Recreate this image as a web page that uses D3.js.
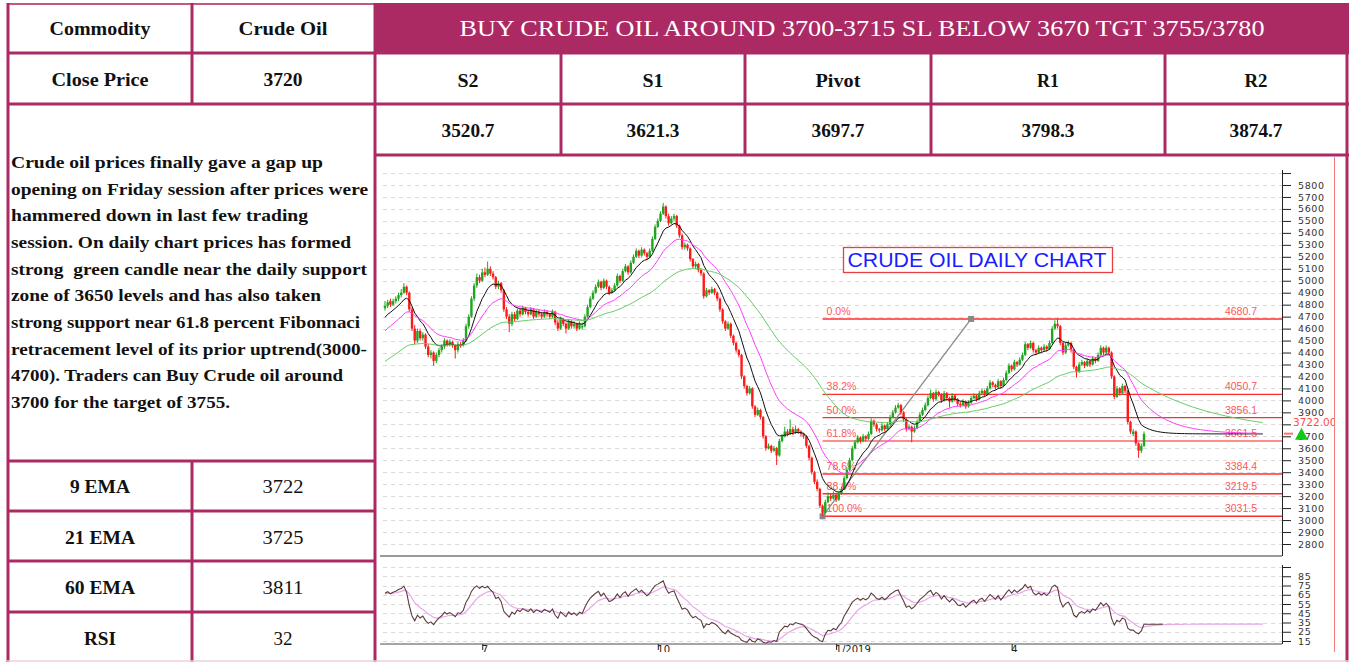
<!DOCTYPE html>
<html>
<head>
<meta charset="utf-8">
<script src="https://cdn.jsdelivr.net/npm/d3@7/dist/d3.min.js"></script>
<style>
  body { margin: 0; background: #fff; }
  svg { display: block; }
  text { white-space: pre; }
</style>
</head>
<body>
<script>
// ---- table text ----
let leftHead = ["Commodity", "Close Price"];
let leftHeadValues = ["Crude Oil", "3720"];
let title = "BUY CRUDE OIL AROUND 3700-3715 SL BELOW 3670 TGT 3755/3780";
let levelNames = ["S2", "S1", "Pivot", "R1", "R2"];
let levelValues = ["3520.7", "3621.3", "3697.7", "3798.3", "3874.7"];
let emaNames = ["9 EMA", "21 EMA", "60 EMA", "RSI"];
let emaValues = ["3722", "3725", "3811", "32"];
let noteLines = [
  "Crude oil prices finally gave a gap up",
  "opening on Friday session after prices were",
  "hammered down in last few trading",
  "session. On daily chart prices has formed",
  "strong  green candle near the daily support",
  "zone of 3650 levels and has also taken",
  "strong support near 61.8 percent Fibonnaci",
  "retracement level of its prior uptrend(3000-",
  "4700). Traders can Buy Crude oil around",
  "3700 for the target of 3755."
];

// ---- daily prices, mid May 2018 .. early June 2019 ----
let opens = [
  4770,4790,4830,4800,4830,4850,4880,4900,4950,4900,
  4760,4600,4500,4580,4520,4550,4450,4380,4400,4330,
  4380,4420,4450,4500,4470,4490,4460,4420,4470,4460,
  4500,4620,4700,4850,4960,5030,5000,5070,5050,5100,
  5060,5030,4950,4980,4920,4760,4700,4640,4720,4680,
  4750,4720,4770,4740,4720,4760,4700,4740,4720,4700,
  4740,4720,4700,4740,4650,4600,4680,4640,4600,4660,
  4620,4640,4600,4610,4620,4700,4780,4850,4900,4950,
  4990,4940,5000,4950,4900,4920,4960,5040,5000,5080,
  5120,5070,5150,5200,5250,5210,5260,5230,5200,5250,
  5350,5450,5500,5560,5620,5540,5480,5520,5540,5460,
  5380,5280,5300,5270,5180,5120,5140,5090,5060,4870,
  4920,4900,4930,4900,4850,4760,4660,4600,4640,4540,
  4480,4420,4380,4200,4120,4060,4100,3950,3880,3920,
  3860,3700,3600,3620,3580,3600,3540,3660,3700,3740,
  3720,3760,3730,3760,3740,3720,3700,3620,3520,3400,
  3320,3260,3120,3060,3150,3200,3180,3210,3170,3220,
  3260,3350,3420,3500,3600,3650,3690,3660,3700,3680,
  3720,3830,3800,3760,3750,3790,3760,3800,3860,3900,
  3940,3960,3900,3840,3760,3780,3740,3770,3820,3880,
  3920,3960,4020,4060,4010,4070,4050,4000,4060,4020,
  3990,4040,4010,3970,3960,3990,3950,3980,4020,4040,
  4010,4060,4080,4050,4100,4150,4130,4110,4160,4120,
  4170,4230,4290,4260,4320,4300,4340,4380,4470,4440,
  4480,4420,4400,4440,4420,4450,4430,4480,4600,4640,
  4620,4480,4400,4460,4480,4420,4280,4240,4300,4320,
  4290,4330,4300,4350,4330,4380,4440,4400,4440,4400,
  4200,4030,4100,4060,4120,4080,3820,3720,3740,3640,
  3580,3620
];
let highs = [
  4830,4840,4850,4850,4870,4900,4930,4980,4960,4910,
  4780,4630,4600,4600,4570,4560,4470,4420,4410,4400,
  4440,4470,4520,4510,4510,4500,4470,4490,4490,4520,
  4640,4720,4870,4980,5060,5050,5100,5110,5160,5120,
  5080,5040,5000,4990,4930,4780,4720,4740,4740,4770,
  4770,4790,4780,4760,4780,4770,4760,4760,4740,4760,
  4750,4730,4760,4750,4670,4700,4690,4650,4680,4670,
  4660,4650,4660,4650,4720,4800,4870,4920,4970,5010,
  5000,5020,5010,4960,4940,4980,5060,5050,5100,5140,
  5130,5170,5220,5270,5260,5280,5270,5240,5270,5370,
  5470,5520,5580,5650,5630,5560,5540,5560,5550,5470,
  5390,5320,5310,5280,5190,5160,5150,5100,5070,4940,
  4930,4950,4940,4910,4860,4770,4670,4660,4650,4550,
  4490,4430,4390,4210,4130,4120,4110,3960,3940,3930,
  3870,3710,3640,3630,3620,3610,3680,3720,3780,3760,
  3840,3780,3790,3770,3750,3730,3710,3630,3530,3410,
  3340,3270,3130,3170,3230,3220,3240,3220,3240,3280,
  3370,3440,3520,3620,3670,3710,3700,3720,3710,3740,
  3850,3840,3810,3770,3810,3800,3820,3880,3920,3960,
  3980,3970,3910,3850,3800,3790,3790,3840,3900,3940,
  3980,4040,4090,4070,4090,4080,4060,4080,4070,4030,
  4060,4050,4020,3990,4010,4000,4000,4040,4060,4050,
  4080,4100,4090,4120,4170,4160,4140,4180,4170,4190,
  4250,4310,4300,4340,4330,4360,4400,4490,4480,4500,
  4490,4430,4460,4450,4470,4460,4500,4620,4670,4681,
  4630,4490,4480,4500,4490,4430,4290,4320,4340,4330,
  4350,4340,4370,4360,4400,4460,4450,4460,4450,4410,
  4210,4120,4110,4140,4130,4090,3830,3760,3750,3650,
  3640,3740
];
let lows = [
  4750,4770,4780,4790,4810,4830,4860,4890,4880,4740,
  4580,4470,4480,4500,4500,4430,4360,4350,4290,4310,
  4360,4400,4430,4450,4450,4440,4350,4400,4440,4450,
  4490,4600,4690,4830,4940,4980,4990,5030,5040,5040,
  5010,4930,4930,4900,4740,4680,4570,4620,4660,4670,
  4700,4710,4720,4700,4710,4680,4690,4700,4680,4690,
  4700,4680,4690,4630,4580,4590,4620,4560,4590,4600,
  4600,4580,4590,4590,4610,4690,4770,4840,4890,4940,
  4920,4930,4930,4880,4890,4910,4950,4980,4990,5070,
  5050,5060,5140,5190,5190,5200,5210,5180,5190,5240,
  5340,5440,5490,5550,5520,5460,5470,5500,5440,5360,
  5260,5260,5250,5160,5100,5100,5070,5040,4850,4860,
  4880,4890,4880,4830,4740,4640,4580,4590,4520,4460,
  4400,4360,4180,4100,4040,4050,3930,3860,3870,3840,
  3680,3580,3590,3560,3570,3460,3530,3650,3690,3700,
  3710,3710,3720,3720,3700,3680,3600,3500,3380,3300,
  3240,3100,3031,3050,3140,3160,3170,3150,3160,3210,
  3250,3340,3410,3490,3590,3640,3640,3650,3660,3670,
  3710,3780,3740,3730,3740,3740,3750,3790,3850,3890,
  3930,3880,3820,3740,3750,3650,3730,3760,3810,3870,
  3910,3950,4010,3990,4000,4030,3980,3990,4000,3940,
  3980,3990,3950,3940,3950,3930,3940,3970,4010,3990,
  4000,4050,4030,4040,4090,4110,4090,4100,4100,4110,
  4160,4220,4240,4250,4280,4290,4330,4370,4420,4430,
  4400,4380,4390,4400,4410,4410,4420,4470,4590,4600,
  4460,4380,4390,4450,4400,4260,4190,4230,4290,4270,
  4280,4280,4290,4310,4320,4370,4380,4390,4380,4180,
  4010,4020,4040,4050,4060,3800,3720,3700,3620,3520,
  3560,3610
];
let closes = [
  4790,4820,4800,4830,4850,4880,4900,4950,4900,4760,
  4600,4500,4580,4520,4550,4450,4380,4400,4330,4380,
  4420,4450,4500,4470,4490,4460,4420,4470,4460,4500,
  4620,4700,4850,4960,5030,5000,5070,5050,5100,5060,
  5030,4950,4980,4920,4760,4700,4640,4720,4680,4750,
  4720,4770,4740,4720,4760,4700,4740,4720,4700,4740,
  4720,4700,4740,4650,4600,4680,4640,4600,4660,4620,
  4640,4600,4640,4620,4700,4780,4850,4900,4950,4990,
  4940,5000,4950,4900,4920,4960,5040,5000,5080,5120,
  5070,5150,5200,5250,5210,5260,5230,5200,5250,5350,
  5450,5500,5560,5620,5540,5480,5520,5540,5460,5380,
  5280,5300,5270,5180,5120,5140,5090,5060,4870,4920,
  4900,4930,4900,4850,4760,4660,4600,4640,4540,4480,
  4420,4380,4200,4120,4060,4100,3950,3880,3920,3860,
  3700,3600,3620,3580,3600,3540,3660,3700,3740,3720,
  3760,3730,3760,3740,3720,3700,3620,3520,3400,3320,
  3260,3120,3060,3150,3200,3180,3210,3170,3220,3260,
  3350,3420,3500,3600,3650,3690,3660,3700,3680,3720,
  3830,3800,3760,3750,3790,3760,3800,3860,3900,3940,
  3960,3900,3840,3760,3780,3740,3770,3820,3880,3920,
  3960,4020,4060,4010,4070,4050,4000,4060,4020,3990,
  4040,4010,3970,3960,3990,3950,3980,4020,4040,4010,
  4060,4080,4050,4100,4150,4130,4110,4160,4120,4170,
  4230,4290,4260,4320,4300,4340,4380,4470,4440,4480,
  4420,4400,4440,4420,4450,4430,4480,4600,4640,4620,
  4480,4400,4460,4480,4420,4280,4240,4300,4320,4290,
  4330,4300,4350,4330,4380,4440,4400,4440,4400,4200,
  4030,4100,4060,4120,4080,3820,3740,3740,3640,3580,
  3620,3720
];

// month ticks (bar index) and their labels
let monthTicks = [36, 101, 167, 232];
let monthLabels = ["7", "10", "1/2019", "4"];

// fibonacci retracement drawn on the chart
let fibPct = ["0.0%", "38.2%", "50.0%", "61.8%", "78.6%", "88.6%", "100.0%"];
let fibLevels = [4680.7, 4050.7, 3856.1, 3661.5, 3384.4, 3219.5, 3031.5];
let fibFromBar = 162;
let fibToBar = 217;

let emaPeriods = [9, 21, 60];
let emaSeeds = [4670, 4560, 4310];
let rsiSeedGain = 30, rsiSeedLoss = 15, rsiSignalSeed = 66;
let projectionBars = 44;   // lines run on past the last bar
let rsiExtraBars = 7;
let lastPrice = 3722.00;
let hiddenTick = 3800;     // covered by the last price tag

// ---- helpers ----
let maroon = "#ac2a63";
let W = 1349, H = 662;

let svg = d3.select("body").append("svg")
  .attr("width", W).attr("height", H)
  .style("background", "#fff");

function line(x1, y1, x2, y2, color, width, dash) {
  return svg.append("line")
    .attr("x1", x1).attr("y1", y1).attr("x2", x2).attr("y2", y2)
    .attr("stroke", color).attr("stroke-width", width)
    .attr("stroke-dasharray", dash || null);
}

function txt(g, x, y, str, size, weight, width, opt) {
  opt = opt || {};
  let t = g.append("text")
    .attr("x", x).attr("y", y)
    .attr("text-anchor", opt.anchor || "middle")
    .style("font-family", opt.family || "'Liberation Serif', serif")
    .style("font-size", size + "px")
    .style("font-weight", weight)
    .style("fill", opt.fill || "#111")
    .text(str);
  if (width) t.attr("textLength", width).attr("lengthAdjust", "spacingAndGlyphs");
  return t;
}

// ---- table ----
svg.append("rect").attr("x", 375).attr("y", 3).attr("width", 974).attr("height", 50).attr("fill", maroon);

line(7, 4, 375, 4, "#c4577f", 2);
[53, 104, 461, 511, 561, 612].forEach(yy => line(7, yy, 376, yy, maroon, 3));
[53, 104, 155].forEach(yy => line(375, yy, 1349, yy, maroon, 3));
line(8, 3, 8, 662, maroon, 3);
line(192, 3, 192, 104, maroon, 3);
line(192, 461, 192, 662, maroon, 3);
line(375, 3, 375, 662, maroon, 3);
[561, 745, 931, 1165].forEach(xx => line(xx, 53, xx, 155, maroon, 3));
line(1347, 3, 1347, 662, maroon, 3);
line(7, 661, 1349, 661, "#efcfdd", 1.5);

let headW = [[101, 89], [97, 39]];
let headY = [35, 86];
leftHead.forEach((s, i) => {
  txt(svg, 100, headY[i], s, 18, "bold", headW[i][0]);
  txt(svg, 283, headY[i], leftHeadValues[i], 18, "bold", headW[i][1]);
});

txt(svg, 862, 36, title, 23, "normal", 805, { fill: "#fff" });

let colMid = [468, 653, 838, 1048, 1256];
let nameW = [21, 21, 45, 22, 23];
levelNames.forEach((s, i) => txt(svg, colMid[i], 87, s, 18, "bold", nameW[i]));
levelValues.forEach((s, i) => txt(svg, colMid[i], 137, s, 18, "bold", 53));

let noteW = [312, 357, 297, 340, 356, 310, 349, 356, 332, 219];
noteLines.forEach((s, i) => {
  txt(svg, 11, 168 + i * 26.67, s, 16.5, "bold", noteW[i], { anchor: "start" });
});

let emaNameW = [60, 70, 70, 32];
let emaValW = [41, 41, 41, 19];
emaNames.forEach((s, i) => {
  let yy = 493 + i * 50.7;
  txt(svg, 100, yy, s, 18, "bold", emaNameW[i]);
  txt(svg, 283, yy, emaValues[i], 18, "normal", emaValW[i]);
});

// ---- chart ----
let x = d3.scaleLinear().domain([0, closes.length - 1]).range([385, 1144]);
let y = d3.scaleLinear().domain([2800, 5800]).range([544, 185]);
let yR = d3.scaleLinear().domain([15, 95]).range([641, 567]);
let axisX = 1282, left = 383;
let crisp = v => Math.round(v) + 0.5;

svg.append("clipPath").attr("id", "cell")
  .append("rect").attr("x", 377).attr("y", 157).attr("width", 958).attr("height", 495);
let chart = svg.append("g").attr("clip-path", "url(#cell)");

// grid
chart.append("g").selectAll("line").data(d3.range(2800, 5901, 100)).join("line")
  .attr("x1", left).attr("x2", axisX).attr("y1", d => crisp(y(d))).attr("y2", d => crisp(y(d)))
  .attr("stroke", "#d9d9d9").attr("stroke-dasharray", "4,4");
chart.append("g").selectAll("line").data(d3.range(15, 96, 10)).join("line")
  .attr("x1", left).attr("x2", axisX).attr("y1", d => crisp(yR(d))).attr("y2", d => crisp(yR(d)))
  .attr("stroke", "#d9d9d9").attr("stroke-dasharray", "4,4");

// fibonacci
let fibG = chart.append("g");
fibLevels.forEach((v, i) => {
  let special = fibPct[i] === "61.8%";
  fibG.append("line")
    .attr("x1", x(fibFromBar)).attr("x2", axisX)
    .attr("y1", y(v)).attr("y2", y(v))
    .attr("stroke", special ? "#ff8c8c" : "#ff2e2e").attr("stroke-width", special ? 2 : 1.4);
  txt(fibG, x(fibFromBar) + 4, y(v) - 4, fibPct[i], 10.5, "normal", null,
    { anchor: "start", family: "'Liberation Sans', Arial, sans-serif", fill: "#ff5656" });
  txt(fibG, 1257, y(v) - 4, v.toFixed(1), 10.5, "normal", null,
    { anchor: "end", family: "'Liberation Sans', Arial, sans-serif", fill: "#ff5656" });
});
fibG.append("line")
  .attr("x1", x(fibFromBar)).attr("y1", y(fibLevels[6]))
  .attr("x2", x(fibToBar)).attr("y2", y(fibLevels[0]))
  .attr("stroke", "#8a8a8a").attr("stroke-width", 1.3);
[[fibFromBar, fibLevels[6]], [fibToBar, fibLevels[0]]].forEach(p => {
  fibG.append("rect").attr("x", x(p[0]) - 3).attr("y", y(p[1]) - 3)
    .attr("width", 6).attr("height", 6).attr("fill", "#888");
});

// candles
let bars = closes.map((c, i) => ({ i: i, o: opens[i], h: highs[i], l: lows[i], c: c }));
let candleColor = d => d.c >= d.o ? "#1fa51f" : "#ff1a1a";
chart.append("g").selectAll("line").data(bars).join("line")
  .attr("x1", d => x(d.i)).attr("x2", d => x(d.i))
  .attr("y1", d => y(d.h)).attr("y2", d => y(d.l))
  .attr("stroke", candleColor).attr("stroke-width", 1);
chart.append("g").selectAll("rect").data(bars).join("rect")
  .attr("x", d => x(d.i) - 1.2).attr("width", 2.4)
  .attr("y", d => y(Math.max(d.o, d.c)))
  .attr("height", d => Math.max(1, Math.abs(y(d.o) - y(d.c))))
  .attr("fill", candleColor);

// moving averages (last close carried forward for the projection)
let runCloses = closes.concat(d3.range(projectionBars).map(() => closes[closes.length - 1]));
function ema(vals, n, seed) {
  let k = 2 / (n + 1), e = seed;
  return vals.map(v => (e = e + k * (v - e)));
}
let emaColors = ["#111", "#ff3cff", "#66cc66"];
let pathLine = d3.line().x((d, i) => x(i)).y(d => y(d));
emaPeriods.forEach((n, k) => {
  chart.append("path").datum(ema(runCloses, n, emaSeeds[k]))
    .attr("d", pathLine).attr("fill", "none")
    .attr("stroke", emaColors[k]).attr("stroke-width", 1);
});

// title box
chart.append("rect").attr("x", 843.5).attr("y", 247.5).attr("width", 269).attr("height", 25)
  .attr("fill", "#fff").attr("stroke", "#e84040").attr("stroke-width", 1.3);
txt(chart, 977, 267, "CRUDE OIL DAILY CHART", 19.5, "normal", 259,
  { family: "'Liberation Sans', Arial, sans-serif", fill: "#1c1cff" });

// price axis
let yAxis = chart.append("g").attr("transform", `translate(${axisX},0)`)
  .call(d3.axisRight(y).tickValues(d3.range(2800, 5901, 100))
    .tickSize(9).tickPadding(7).tickFormat(d => (d > 5800 || d === hiddenTick) ? "" : d));
yAxis.select(".domain").remove();
yAxis.selectAll("line").attr("stroke", "#222");
yAxis.selectAll("text").style("font-family", "'DejaVu Sans', sans-serif")
  .style("font-size", "9.5px").style("letter-spacing", "0.6px").attr("fill", "#333");
chart.append("line").attr("x1", axisX + 0.5).attr("x2", axisX + 0.5).attr("y1", 170).attr("y2", 556)
  .attr("stroke", "#222");
chart.append("line").attr("x1", 380).attr("x2", axisX).attr("y1", 556).attr("y2", 556)
  .attr("stroke", "#777").attr("stroke-width", 1.6);

// last price marker
txt(chart, 1293, 426, lastPrice.toFixed(2), 10.5, "normal", null,
  { anchor: "start", family: "'DejaVu Sans', sans-serif", fill: "#ff4a4a" });
chart.append("line").attr("x1", 1284).attr("x2", 1293).attr("y1", y(lastPrice)).attr("y2", y(lastPrice))
  .attr("stroke", "#ff7070").attr("stroke-width", 2);
chart.append("path")
  .attr("d", `M1295,${y(lastPrice) + 6}L1301.5,${y(lastPrice) - 6}L1308,${y(lastPrice) + 6}Z`)
  .attr("fill", "#16c816");

// RSI panel
function rsi(vals, n, g, l) {
  return vals.map((v, i) => {
    if (i > 0) {
      let ch = v - vals[i - 1];
      g = (g * (n - 1) + Math.max(ch, 0)) / n;
      l = (l * (n - 1) + Math.max(-ch, 0)) / n;
    }
    return 100 - 100 / (1 + g / l);
  });
}
let rsiVals = rsi(runCloses, 14, rsiSeedGain, rsiSeedLoss);
let rsiSignal = ema(rsiVals, 9, rsiSignalSeed);
let rsiLine = d3.line().x((d, i) => x(i)).y(d => yR(d));
chart.append("path").datum(rsiSignal).attr("d", rsiLine)
  .attr("fill", "none").attr("stroke", "#e9a6e9").attr("stroke-width", 1.2);
chart.append("path").datum(rsiVals.slice(0, closes.length + rsiExtraBars)).attr("d", rsiLine)
  .attr("fill", "none").attr("stroke", "#5e3b3b").attr("stroke-width", 1.1);

let rAxis = chart.append("g").attr("transform", `translate(${axisX},0)`)
  .call(d3.axisRight(yR).tickValues(d3.range(15, 96, 10))
    .tickSize(9).tickPadding(7).tickFormat(d => d > 85 ? "" : d));
rAxis.select(".domain").remove();
rAxis.selectAll("line").attr("stroke", "#222");
rAxis.selectAll("text").style("font-family", "'DejaVu Sans', sans-serif")
  .style("font-size", "9.5px").style("letter-spacing", "0.6px").attr("fill", "#333");
chart.append("line").attr("x1", axisX + 0.5).attr("x2", axisX + 0.5).attr("y1", 565).attr("y2", 644)
  .attr("stroke", "#222");
chart.append("line").attr("x1", 380).attr("x2", axisX).attr("y1", 644).attr("y2", 644)
  .attr("stroke", "#888").attr("stroke-width", 1.6);

// month axis under the RSI panel (cut off by the cell edge, as in the picture)
let xAxis = chart.append("g").attr("transform", "translate(0,644)")
  .call(d3.axisBottom(x).tickValues(monthTicks).tickSize(6).tickPadding(2)
    .tickFormat((d, i) => monthLabels[i]));
xAxis.select(".domain").remove();
xAxis.selectAll("line").attr("stroke", "#222");
xAxis.selectAll("text").attr("text-anchor", "start").attr("dx", "-1").attr("y", 2)
  .style("font-family", "'DejaVu Sans', sans-serif").style("font-size", "10px").attr("fill", "#222");

// chart frame edge
chart.append("line").attr("x1", 1335).attr("x2", 1335).attr("y1", 157).attr("y2", 662)
  .attr("stroke", "#f77a7a").attr("stroke-width", 2);
</script>
</body>
</html>
